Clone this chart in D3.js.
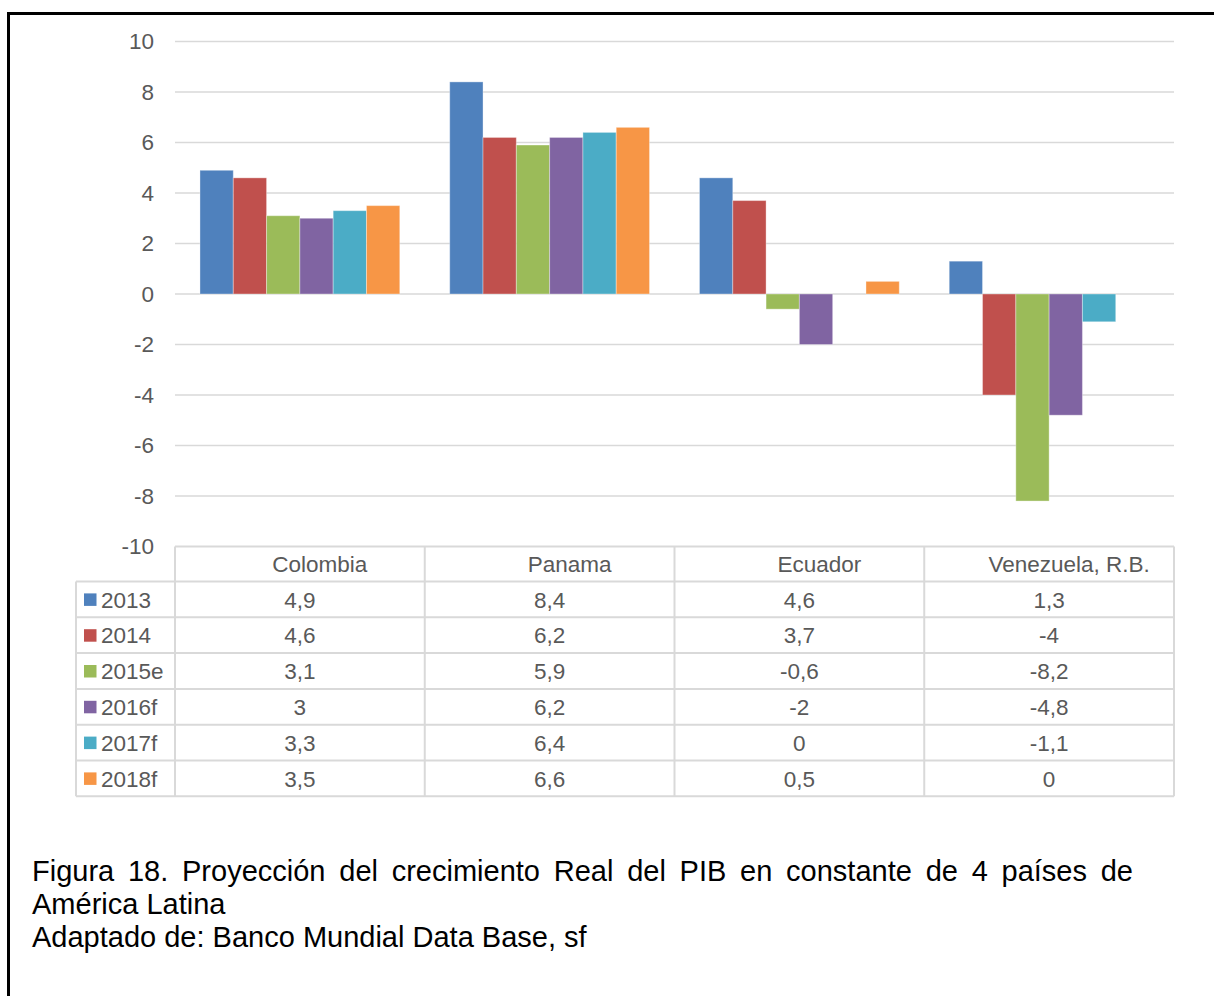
<!DOCTYPE html>
<html>
<head>
<meta charset="utf-8">
<script src="https://cdn.jsdelivr.net/npm/d3@7"></script>
<style>
  body { margin: 0; background: #fff; }
  svg text { font-family: Arial, "Liberation Sans", sans-serif; }
</style>
</head>
<body>
<div id="wrapper"></div>
<script>
// data
const countries = ["Colombia", "Panama", "Ecuador", "Venezuela, R.B."];
const seriesNames = ["2013", "2014", "2015e", "2016f", "2017f", "2018f"];
const v2013 = [4.9, 8.4, 4.6, 1.3];
const v2014 = [4.6, 6.2, 3.7, -4];
const v2015e = [3.1, 5.9, -0.6, -8.2];
const v2016f = [3, 6.2, -2, -4.8];
const v2017f = [3.3, 6.4, 0, -1.1];
const v2018f = [3.5, 6.6, 0.5, 0];
const yTicks = [-10, -8, -6, -4, -2, 0, 2, 4, 6, 8, 10];
const colors = ["#4F81BD", "#C0504D", "#9BBB59", "#8064A2", "#4BACC6", "#F79646"];
const captionLine1 = "Figura 18. Proyección del crecimiento Real del PIB en constante de 4 países de";
const captionLine2 = "América Latina";
const captionLine3 = "Adaptado de: Banco Mundial Data Base, sf";

const seriesValues = [v2013, v2014, v2015e, v2016f, v2017f, v2018f];

const width = 1214;
const height = 996;

const svg = d3.select("#wrapper")
    .append("svg")
    .attr("width", width)
    .attr("height", height);

// outer frame
svg.append("rect")
    .attr("x", 8.5)
    .attr("y", 13.5)
    .attr("width", 1300)
    .attr("height", 1100)
    .attr("fill", "none")
    .attr("stroke", "#000")
    .attr("stroke-width", 3);

const plotLeft = 175, plotRight = 1174;
const tableLeft = 76;
const labelSize = 22.5;

const x0 = d3.scaleBand().domain(countries).range([plotLeft, plotRight]);
const x1 = d3.scaleBand().domain(seriesNames)
    .range([x0.bandwidth() * 0.1, x0.bandwidth() * 0.9]);
const y = d3.scaleLinear().domain([-10, 10]).range([546.5, 41.5]);

// gridlines
svg.append("g")
    .selectAll("line")
    .data(yTicks.filter(d => d !== -10))
    .join("line")
    .attr("x1", plotLeft)
    .attr("x2", plotRight)
    .attr("y1", d => y(d))
    .attr("y2", d => y(d))
    .attr("stroke", "#d9d9d9")
    .attr("stroke-width", 1.5);

// y axis labels (plain hyphen for negatives)
const yAxis = svg.append("g")
    .attr("transform", `translate(${plotLeft},0)`)
    .call(d3.axisLeft(y).tickValues(yTicks).tickSize(0).tickPadding(21)
        .tickFormat(d => String(d)));
yAxis.select(".domain").remove();
yAxis.selectAll("text")
    .style("font-family", "Arial, 'Liberation Sans', sans-serif")
    .style("font-size", labelSize + "px")
    .attr("fill", "#595959");

// bars
const groups = svg.append("g")
    .selectAll("g")
    .data(seriesNames)
    .join("g")
    .attr("fill", (d, i) => colors[i]);

groups.selectAll("rect")
    .data((s, i) => countries.map((c, j) => ({ country: c, series: s, value: seriesValues[i][j] })))
    .join("rect")
    .attr("x", d => x0(d.country) + x1(d.series))
    .attr("width", x1.bandwidth())
    .attr("y", d => y(Math.max(0, d.value)))
    .attr("height", d => Math.abs(y(d.value) - y(0)))
    .attr("stroke", "#fff")
    .attr("stroke-opacity", 0.35)
    .attr("stroke-width", 1);

// data table
const tableTop = 546.5;
const headerH = 35;
const rowH = 35.8;
const table = svg.append("g");
const gridColor = "#d9d9d9";
const tableBottom = tableTop + headerH + rowH * seriesNames.length;

// horizontal lines
table.append("line")
    .attr("x1", plotLeft).attr("x2", plotRight)
    .attr("y1", tableTop).attr("y2", tableTop)
    .attr("stroke", gridColor).attr("stroke-width", 2);
table.selectAll(".hrow")
    .data(d3.range(seriesNames.length + 1))
    .join("line")
    .attr("class", "hrow")
    .attr("x1", tableLeft).attr("x2", plotRight)
    .attr("y1", i => tableTop + headerH + i * rowH)
    .attr("y2", i => tableTop + headerH + i * rowH)
    .attr("stroke", gridColor).attr("stroke-width", 2);

// vertical lines
table.append("line")
    .attr("x1", tableLeft).attr("x2", tableLeft)
    .attr("y1", tableTop + headerH).attr("y2", tableBottom)
    .attr("stroke", gridColor).attr("stroke-width", 2);
table.selectAll(".vcol")
    .data(countries.map(c => x0(c)).concat([plotRight]))
    .join("line")
    .attr("class", "vcol")
    .attr("x1", d => d).attr("x2", d => d)
    .attr("y1", tableTop).attr("y2", tableBottom)
    .attr("stroke", gridColor).attr("stroke-width", 2);

// column headers
table.selectAll(".head")
    .data(countries)
    .join("text")
    .attr("class", "head")
    .attr("x", d => x0(d) + x0.bandwidth() / 2 + 20)
    .attr("y", tableTop + headerH / 2)
    .attr("dy", "0.36em")
    .attr("text-anchor", "middle")
    .attr("font-size", labelSize)
    .attr("fill", "#595959")
    .text(d => d);

// rows
const rows = table.selectAll(".row")
    .data(seriesNames)
    .join("g")
    .attr("class", "row")
    .attr("transform", (d, i) => `translate(0,${tableTop + headerH + i * rowH + rowH / 2})`);

rows.append("rect")
    .attr("x", 84)
    .attr("y", -6)
    .attr("width", 12.5)
    .attr("height", 12.5)
    .attr("fill", (d, i) => colors[i]);

rows.append("text")
    .attr("x", 101)
    .attr("dy", "0.36em")
    .attr("font-size", labelSize)
    .attr("fill", "#595959")
    .text(d => d);

rows.selectAll(".val")
    .data((s, i) => countries.map((c, j) => ({ country: c, value: seriesValues[i][j] })))
    .join("text")
    .attr("class", "val")
    .attr("x", d => x0(d.country) + x0.bandwidth() / 2)
    .attr("dy", "0.36em")
    .attr("text-anchor", "middle")
    .attr("font-size", labelSize)
    .attr("fill", "#595959")
    .text(d => String(d.value).replace(".", ","));

// caption (first line justified)
const capLeft = 32, capRight = 1133;
const capSize = 29;
const cap = svg.append("g").attr("font-size", capSize).attr("fill", "#000");

const words = captionLine1.split(" ");
const wordText = cap.selectAll(".w")
    .data(words)
    .join("text")
    .attr("class", "w")
    .attr("y", 881)
    .text(d => d);
const widths = [];
wordText.each(function () { widths.push(this.getComputedTextLength()); });
const gap = (capRight - capLeft - d3.sum(widths)) / (words.length - 1);
let cx = capLeft;
wordText.attr("x", (d, i) => {
    const pos = cx;
    cx += widths[i] + gap;
    return pos;
});

cap.append("text").attr("x", capLeft).attr("y", 914).text(captionLine2);
cap.append("text").attr("x", capLeft).attr("y", 947).text(captionLine3);
</script>
</body>
</html>
